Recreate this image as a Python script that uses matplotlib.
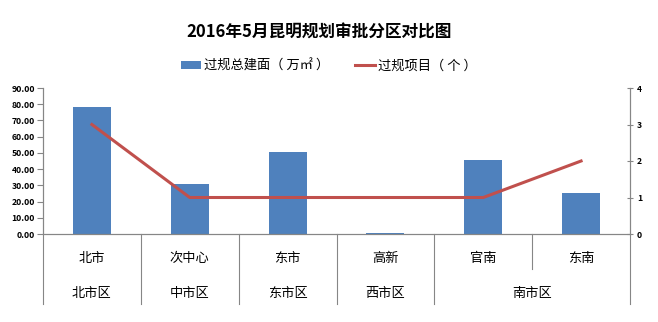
import numpy as np
import matplotlib.pyplot as plt
import matplotlib.transforms as mtransforms

plt.rcParams['font.family'] = ['Noto Sans CJK SC', 'DejaVu Sans']

# data
districts = ['北市', '次中心', '东市', '高新', '官南', '东南']
regions = ['北市区', '中市区', '东市区', '西市区', '南市区']
region_spans = [(0, 0), (1, 1), (2, 2), (3, 3), (4, 5)]
area = np.array([78.3, 30.6, 50.8, 0.5, 45.5, 25.2])   # 万㎡
projects = np.array([3, 1, 1, 1, 1, 2])                 # 个

bar_color = '#4F81BD'
line_color = '#C0504D'
axis_color = '#868686'

fig = plt.figure(figsize=(6.58, 3.22), dpi=100)
ax = fig.add_axes([43 / 658, 1 - 234 / 322, (630 - 43) / 658, 146 / 322])
ax2 = ax.twinx()

x = np.arange(len(districts))
bars = ax.bar(x, area, width=0.39, color=bar_color, zorder=2)
line, = ax2.plot(x, projects, color=line_color, lw=2.2, zorder=3)

ax.set_xlim(-0.5, len(districts) - 0.5)
ax.set_ylim(0, 90)
ax.set_yticks(np.arange(0, 91, 10))
ax.set_yticklabels([f'{v:.2f}' for v in np.arange(0, 91, 10)], fontweight='bold')
ax2.set_ylim(0, 4)
ax2.set_yticks(range(5))
ax2.set_yticklabels([str(v) for v in range(5)], fontweight='bold')

for a in (ax, ax2):
    a.spines['top'].set_visible(False)
    for s in ('left', 'right', 'bottom'):
        a.spines[s].set_color(axis_color)
        a.spines[s].set_linewidth(0.8)
ax.set_zorder(ax2.get_zorder() - 1)
ax2.patch.set_visible(False)

ax.tick_params(axis='y', labelsize=6.2, length=4, color=axis_color, pad=2)
ax2.tick_params(axis='y', labelsize=6.2, length=4, direction='inout', color=axis_color, pad=3)
ax.set_xticks([])

# category separators and two-level labels below the axis
trans = mtransforms.blended_transform_factory(ax.transData, ax.transAxes)
for sep in np.arange(-0.5, len(districts), 1.0):
    bottom = -0.24 if sep == 4.5 else -0.48
    ax.plot([sep, sep], [0, bottom], color=axis_color, lw=0.8, transform=trans, clip_on=False)

for xi, name in zip(x, districts):
    ax.text(xi, -0.165, name, transform=trans, ha='center', va='center', fontsize=9.5)
for (a, b), name in zip(region_spans, regions):
    ax.text((a + b) / 2, -0.41, name, transform=trans, ha='center', va='center', fontsize=9.5)

fig.text(0.485, 0.90, '2016年5月昆明规划审批分区对比图', ha='center', va='center',
         fontsize=12, fontweight='bold')
fig.legend([bars, line], ['过规总建面（ 万㎡ ）', '过规项目（ 个 ）'], loc='center',
           bbox_to_anchor=(0.50, 0.795), ncol=2, frameon=False, fontsize=9.5,
           handlelength=1.5, handleheight=0.6, columnspacing=2.0, handletextpad=0.2)

fig.savefig('out.png', dpi=100)
